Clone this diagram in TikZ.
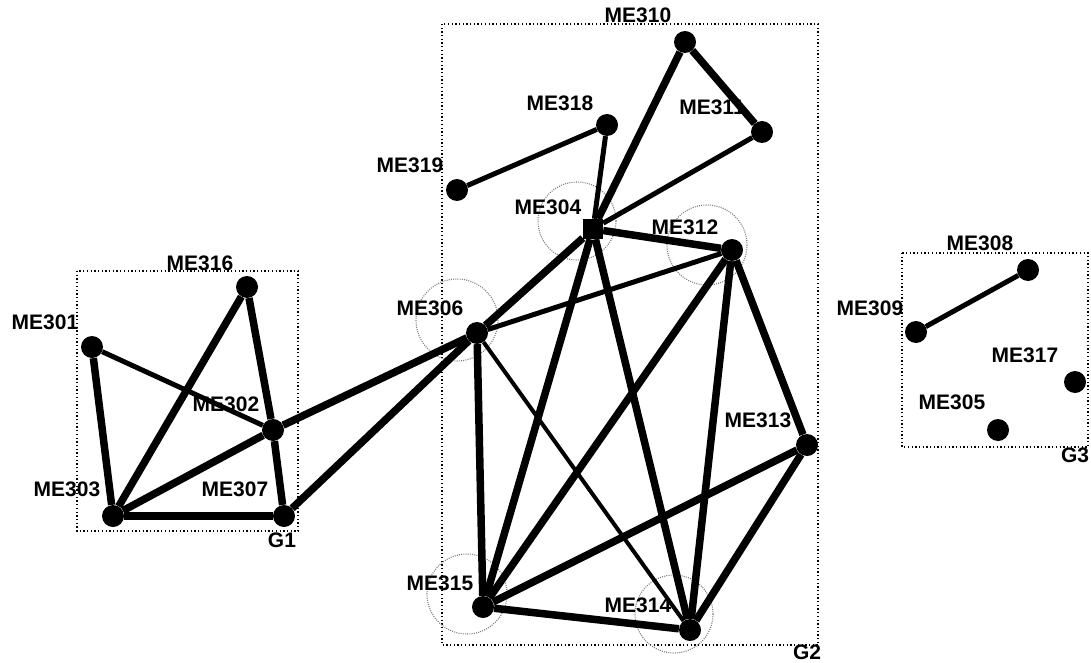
\documentclass[tikz,border=0pt]{standalone}
\usepackage{fontspec}
\setmainfont{Liberation Sans}
\definecolor{ringgrey}{RGB}{125, 125, 125}

\begin{document}
\begin{tikzpicture}[x=1pt, y=-1pt,
    dot/.style={circle, fill=black, inner sep=0pt, minimum size=22pt},
    lbl/.style={font=\fontsize{21}{21}\selectfont\bfseries, inner sep=0pt},
    heavy/.style={line width=7.5pt},
    medium/.style={line width=5pt},
    light/.style={line width=4pt},
    groupbox/.style={line width=1.3pt, dash pattern=on 1.3pt off 2.4pt},
    ring/.style={draw=ringgrey, line width=1.1pt, dash pattern=on 1pt off 1.2pt}]
            \useasboundingbox (0, 0) rectangle (1091, 663);
            % group boxes
            \draw[groupbox] ( 77, 271) rectangle ( 298, 531);
            \draw[groupbox] (442,  24) rectangle ( 818, 645);
            \draw[groupbox] (902, 253) rectangle (1088, 447);
            \node[lbl] (g1) at ( 282, 540) {G1};
            \node[lbl] (g2) at ( 807, 652) {G2};
            \node[lbl] (g3) at (1075, 455) {G3};
            % rings
            \draw[ring] (577, 221) circle (39);
            \draw[ring] (707, 245) circle (40);
            \draw[ring] (457, 320) circle (41);
            \draw[ring] (467, 594) circle (40);
            \draw[ring] (674, 614) circle (39);
            % members
            \node[dot] (me301) at (  92, 347) {};
            \node[dot] (me302) at ( 273, 430) {};
            \node[dot] (me303) at ( 113, 516) {};
            \node[dot, rectangle, minimum size=20pt] (me304) at ( 593, 229) {};
            \node[dot] (me305) at ( 998, 430) {};
            \node[dot] (me306) at ( 477, 333) {};
            \node[dot] (me307) at ( 284, 516) {};
            \node[dot] (me308) at (1028, 270) {};
            \node[dot] (me309) at ( 916, 332) {};
            \node[dot] (me310) at ( 685,  42) {};
            \node[dot] (me311) at ( 762, 132) {};
            \node[dot] (me312) at ( 732, 250) {};
            \node[dot] (me313) at ( 807, 445) {};
            \node[dot] (me314) at ( 690, 630) {};
            \node[dot] (me315) at ( 483, 607) {};
            \node[dot] (me316) at ( 247, 287) {};
            \node[dot] (me317) at (1075, 382) {};
            \node[dot] (me318) at ( 607, 125) {};
            \node[dot] (me319) at ( 457, 190) {};
            % names
            \node[lbl] (n301) at (  45, 322) {ME301};
            \node[lbl] (n302) at ( 226, 404) {ME302};
            \node[lbl] (n303) at (  67, 489) {ME303};
            \node[lbl] (n304) at ( 548, 207) {ME304};
            \node[lbl] (n305) at ( 952, 402) {ME305};
            \node[lbl] (n306) at ( 430, 308) {ME306};
            \node[lbl] (n307) at ( 235, 489) {ME307};
            \node[lbl] (n308) at ( 980, 243) {ME308};
            \node[lbl] (n309) at ( 870, 308) {ME309};
            \node[lbl] (n310) at ( 638,  15) {ME310};
            \node[lbl] (n311) at ( 712, 107) {ME311};
            \node[lbl] (n312) at ( 685, 227) {ME312};
            \node[lbl] (n313) at ( 758, 420) {ME313};
            \node[lbl] (n314) at ( 638, 605) {ME314};
            \node[lbl] (n315) at ( 440, 583) {ME315};
            \node[lbl] (n316) at ( 200, 263) {ME316};
            \node[lbl] (n317) at (1025, 355) {ME317};
            \node[lbl] (n318) at ( 560, 103) {ME318};
            \node[lbl] (n319) at ( 410, 165) {ME319};
            % links
            \draw[heavy]  (me301) -- (me303);
            \draw[medium] (me301) -- (me302);
            \draw[heavy]  (me316) -- (me303);
            \draw[heavy]  (me316) -- (me302);
            \draw[heavy]  (me302) -- (me303);
            \draw[heavy]  (me302) -- (me307);
            \draw[heavy]  (me303) -- (me307);
            \draw[heavy]  (me302) -- (me306);
            \draw[heavy]  (me307) -- (me306);
            \draw[heavy]  (me306) -- (me304);
            \draw[medium] (me306) -- (me312);
            \draw[heavy]  (me306) -- (me315);
            \draw[light]  (me306) -- (me314);
            \draw[medium] (me319) -- (me318);
            \draw[medium] (me318) -- (me304);
            \draw[heavy]  (me304) -- (me310);
            \draw[heavy]  (me310) -- (me311);
            \draw[medium] (me304) -- (me311);
            \draw[heavy]  (me304) -- (me312);
            \draw[heavy]  (me304) -- (me315);
            \draw[heavy]  (me304) -- (me314);
            \draw[heavy]  (me312) -- (me313);
            \draw[heavy]  (me312) -- (me315);
            \draw[heavy]  (me312) -- (me314);
            \draw[heavy]  (me313) -- (me315);
            \draw[heavy]  (me313) -- (me314);
            \draw[heavy]  (me315) -- (me314);
            \draw[medium] (me309) -- (me308);
        \end{tikzpicture}
\end{document}
